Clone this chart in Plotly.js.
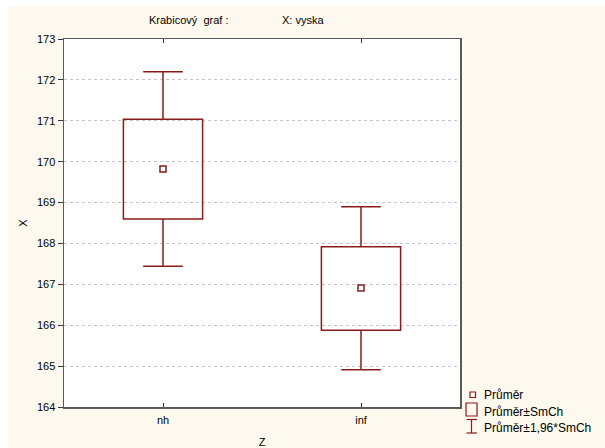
<!DOCTYPE html>
<html>
<head>
<meta charset="utf-8">
<script src="https://cdn.plot.ly/plotly-3.0.1.min.js"></script>
<style>html,body{margin:0;padding:0;background:#fff;}#chart{width:605px;height:448px;}</style>
</head>
<body>
<div id="chart"></div>
<script>
// ---- data ----
var categories = ['nh', 'inf'];
var means  = [169.82, 166.91];
var seLow  = [168.60, 165.88];
var seHigh = [171.04, 167.92];
var ciLow  = [167.44, 164.91];
var ciHigh = [172.20, 168.90];
var yTicks = [164, 165, 166, 167, 168, 169, 170, 171, 172, 173];
var legendLabels = ['Průměr', 'Průměr±SmCh', 'Průměr±1,96*SmCh'];

var RED = '#8b1a1a';
var FONT = 'Arial, "Liberation Sans", sans-serif';
var BOXW = 0.4, CAPW = 0.2;

// plot area in pixels
var L = 64, R = 460, T = 39, B = 407, W = 605, H = 448;
function px(x) { return (x - L) / (R - L); }
function py(y) { return (B - y) / (B - T); }

var pos = categories.map(function (c, i) { return i; });

// whisker stems and caps, built from the data arrays
var wx = [], wy = [];
pos.forEach(function (p, i) {
  wx.push(p, p, null, p - CAPW / 2, p + CAPW / 2, null);
  wy.push(seHigh[i], ciHigh[i], null, ciHigh[i], ciHigh[i], null);
  wx.push(p, p, null, p - CAPW / 2, p + CAPW / 2, null);
  wy.push(seLow[i], ciLow[i], null, ciLow[i], ciLow[i], null);
});

var traces = [
  {
    type: 'scatter', mode: 'lines', x: wx, y: wy,
    line: {color: RED, width: 1.5}, connectgaps: false,
    hoverinfo: 'skip', showlegend: false
  },
  {
    type: 'bar',
    x: pos,
    base: seLow,
    y: seHigh.map(function (v, i) { return v - seLow[i]; }),
    width: BOXW,
    marker: {color: 'rgba(255,255,255,0)', line: {color: RED, width: 1.5}},
    hoverinfo: 'skip', showlegend: false
  },
  {
    type: 'scatter',
    mode: 'markers',
    x: pos,
    y: means,
    marker: {symbol: 'square-open', size: 6, color: RED, line: {color: RED, width: 1.5}},
    hoverinfo: 'skip',
    showlegend: false
  }
];

var shapes = [
  // white strips at top and left (outside the cream chart panel)
  {type: 'rect', xref: 'paper', yref: 'paper', layer: 'below',
   x0: px(0), x1: px(W), y0: py(0), y1: py(6), fillcolor: '#ffffff', line: {width: 0}},
  {type: 'rect', xref: 'paper', yref: 'paper', layer: 'below',
   x0: px(0), x1: px(8), y0: py(0), y1: py(H), fillcolor: '#ffffff', line: {width: 0}},
  // legend icons
  {type: 'rect', xref: 'paper', yref: 'paper',
   x0: px(470), x1: px(475.5), y0: py(392), y1: py(397.5), line: {color: RED, width: 1.2}},
  {type: 'rect', xref: 'paper', yref: 'paper',
   x0: px(466), x1: px(477), y0: py(403), y1: py(416), line: {color: RED, width: 1.2}},
  {type: 'line', xref: 'paper', yref: 'paper',
   x0: px(471.5), x1: px(471.5), y0: py(419.5), y1: py(433), line: {color: RED, width: 1.2}},
  {type: 'line', xref: 'paper', yref: 'paper',
   x0: px(466.5), x1: px(477), y0: py(419.5), y1: py(419.5), line: {color: RED, width: 1.2}},
  {type: 'line', xref: 'paper', yref: 'paper',
   x0: px(466.5), x1: px(477), y0: py(433), y1: py(433), line: {color: RED, width: 1.2}}
];

var annotations = [
  {xref: 'paper', yref: 'paper', x: px(147), y: py(20), xanchor: 'left', yanchor: 'middle',
   text: 'Krabicový  graf :', showarrow: false, font: {family: FONT, size: 11, color: '#000'}},
  {xref: 'paper', yref: 'paper', x: px(280), y: py(20), xanchor: 'left', yanchor: 'middle',
   text: 'X: vyska', showarrow: false, font: {family: FONT, size: 11, color: '#000'}}
];
var legendY = [395, 411.5, 427.5];
legendLabels.forEach(function (t, i) {
  annotations.push({xref: 'paper', yref: 'paper', x: px(482), y: py(legendY[i]),
    xanchor: 'left', yanchor: 'middle', text: t, showarrow: false,
    font: {family: FONT, size: 12, color: '#000'}});
});

var layout = {
  width: W, height: H,
  margin: {l: L, r: W - R, t: T, b: H - B, pad: 0},
  paper_bgcolor: '#fdf9ee',
  plot_bgcolor: '#ffffff',
  showlegend: false,
  bargap: 0,
  xaxis: {
    range: [-0.5, 1.5],
    tickvals: pos,
    ticktext: categories,
    showgrid: false,
    showline: true, linecolor: '#5a5a5a', linewidth: 1.5,
    mirror: 'ticks',
    ticks: 'inside', ticklen: 4, tickcolor: '#333', tickwidth: 1,
    ticklabelstandoff: 2,
    tickfont: {family: FONT, size: 11, color: '#000'},
    title: {text: 'Z', font: {family: FONT, size: 11, color: '#000'}, standoff: 20},
    zeroline: false, fixedrange: true
  },
  yaxis: {
    range: [164, 173],
    tickvals: yTicks,
    ticktext: yTicks.map(String),
    showgrid: true, gridcolor: '#c4c4c4', gridwidth: 1, griddash: 'dot',
    showline: true, linecolor: '#5a5a5a', linewidth: 1.5,
    mirror: true,
    ticks: 'outside', ticklen: 5, tickcolor: '#333', tickwidth: 1,
    tickfont: {family: FONT, size: 11, color: '#000'},
    title: {text: 'X', font: {family: FONT, size: 11, color: '#000'}, standoff: 7},
    zeroline: false, fixedrange: true
  },
  shapes: shapes,
  annotations: annotations
};

Plotly.newPlot('chart', traces, layout, {displayModeBar: false, staticPlot: true});
</script>
</body>
</html>
